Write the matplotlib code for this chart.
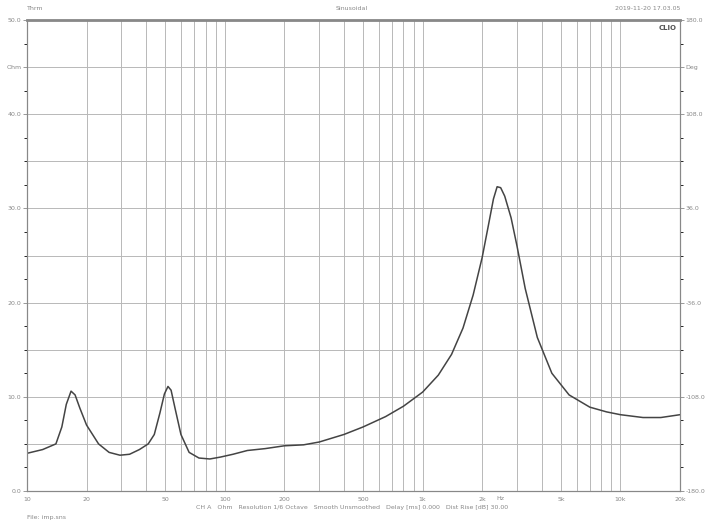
import matplotlib
matplotlib.use("Agg")
import matplotlib.pyplot as plt
import numpy as np

freq = [10, 12, 14, 15, 15.8, 16.7, 17.5, 18.5, 20, 23, 26, 29.5, 33, 37, 41, 44, 47, 49.5, 51.6, 53.5, 56, 60, 66, 74, 84, 95, 110, 130, 160, 200, 250, 300, 400, 500, 650, 800, 1000, 1200, 1400, 1600, 1800, 2000, 2150, 2280, 2380, 2480, 2600, 2800, 3000, 3300, 3800, 4500, 5500, 7000, 8500, 10000, 13000, 16000, 20000]
ohm  = [4.0, 4.4, 5.0, 6.8, 9.2, 10.6, 10.2, 8.8, 7.0, 5.0, 4.1, 3.8, 3.9, 4.4, 5.0, 6.0, 8.3, 10.3, 11.1, 10.7, 8.8, 6.0, 4.1, 3.5, 3.4, 3.6, 3.9, 4.3, 4.5, 4.8, 4.9, 5.2, 6.0, 6.8, 7.9, 9.0, 10.5, 12.3, 14.5, 17.3, 20.8, 24.8, 28.2, 31.0, 32.3, 32.2, 31.3, 29.0, 26.0, 21.5, 16.3, 12.5, 10.2, 8.9, 8.4, 8.1, 7.8, 7.8, 8.1]

xticks = [10, 20, 50, 100, 200, 500, 1000, 2000, 5000, 10000, 20000]
xlabels = ["10", "20", "50", "100", "200", "500", "1k", "2k", "5k", "10k", "20k"]
lticks = [0, 10, 20, 30, 40, 45, 50]
llabels = ["0.0", "10.0", "20.0", "30.0", "40.0", "Ohm", "50.0"]
rticks = [-180, -108, -36, 36, 108, 144, 180]
rlabels = ["-180.0", "-108.0", "-36.0", "36.0", "108.0", "Deg", "180.0"]

fig = plt.figure(figsize=(7.05, 5.28), dpi=100)
ax = fig.add_axes([27/705, 1-491/528, 653/705, 471/528])
tc = "#888888"
fs = 4.5
ax.set_xscale("log")
ax.set_xlim(10, 20000)
ax.set_ylim(0, 50)
grid = [m*10**e for e in range(1, 5) for m in range(1, 10) if 10 <= m*10**e <= 20000]
for g in grid:
    ax.axvline(g, color="#b8b8b8", lw=0.7, zorder=0)
for h in range(5, 50, 5):
    ax.axhline(h, color="#b8b8b8", lw=0.7, zorder=0)
ax.plot(freq, ohm, color="#444444", lw=1.1)
ax.set_xticks(xticks)
ax.set_xticklabels(xlabels)
ax.xaxis.set_minor_locator(matplotlib.ticker.NullLocator())
ax.set_yticks(lticks)
ax.set_yticklabels(llabels)
ax.set_yticks(np.arange(0, 51, 2.5), minor=True)
ax.tick_params(colors=tc, labelsize=fs, length=3, width=0.6, labelcolor=tc, pad=1)
ax.tick_params(axis="x", length=0, pad=4)
ax2 = ax.twinx()
ax2.set_ylim(-180, 180)
ax2.set_yticks(rticks)
ax2.set_yticklabels(rlabels)
ax2.set_yticks(np.arange(-180, 181, 18), minor=True)
ax2.tick_params(colors=tc, labelsize=fs, length=3, width=0.6, labelcolor=tc, pad=1)
for a in (ax, ax2):
    for s in a.spines.values():
        s.set_color("#888888"); s.set_linewidth(0.8)
ax.spines["top"].set_linewidth(2)
fig.text(27/705, 1-8/528, "Thrm", fontsize=fs, color=tc, ha="left", va="center")
fig.text(352/705, 1-8/528, "Sinusoidal", fontsize=fs, color=tc, ha="center", va="center")
fig.text(680/705, 1-8/528, "2019-11-20 17.03.05", fontsize=fs, color=tc, ha="right", va="center")
ax.text(0.995, 0.99, "CLIO", transform=ax.transAxes, fontsize=5, color="#555555", ha="right", va="top", fontweight="bold")
fig.text(500/705, 1-499/528, "Hz", fontsize=fs, color=tc, ha="center", va="center")
fig.text(352/705, 1-508/528, "CH A   Ohm   Resolution 1/6 Octave   Smooth Unsmoothed   Delay [ms] 0.000   Dist Rise [dB] 30.00", fontsize=fs, color=tc, ha="center", va="center")
fig.text(27/705, 1-518/528, "File: imp.sns", fontsize=fs, color=tc, ha="left", va="center")
fig.savefig("out.png", dpi=100, facecolor="white")
